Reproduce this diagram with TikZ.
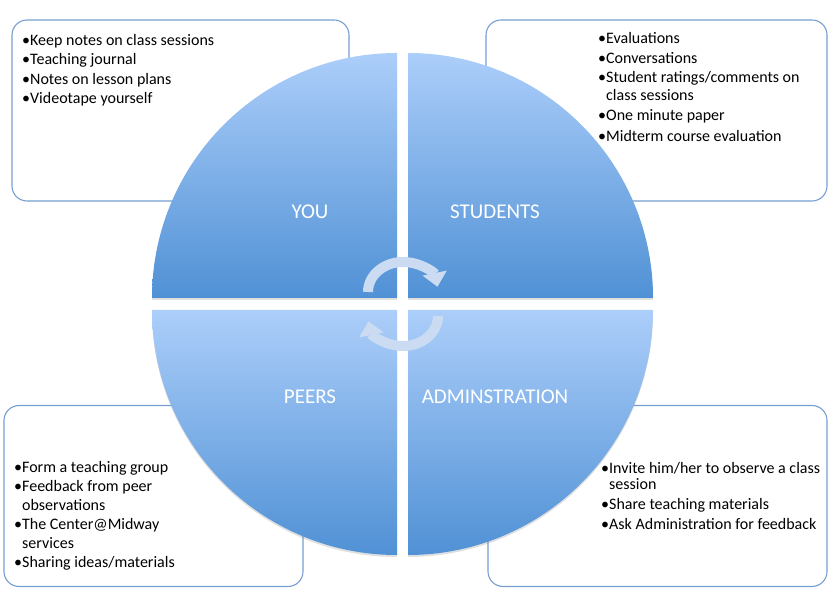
\documentclass[tikz,border=0pt]{standalone}
\usepackage{fontspec}
\setmainfont{Carlito}
\usetikzlibrary{arrows.meta,shadows}
\definecolor{quadtop}{RGB}{172,206,250}
\definecolor{quadbot}{RGB}{80,145,213}
\definecolor{boxline}{RGB}{118,158,208}
\definecolor{arrowpale}{RGB}{202,219,242}
\tikzset{
  notebox/.style={rounded corners=15pt, draw=boxline, line width=1.1pt, fill=white,
                  inner sep=0pt},
  notetext/.style={anchor=base west, inner sep=0pt, align=left, text=black,
                   font=\fontsize{16}{19.5}\selectfont},
  quad/.style={top color=quadtop, bottom color=quadbot,
               drop shadow={shadow xshift=0pt, shadow yshift=-2pt, opacity=0.25}},
  quadlab/.style={font=\fontsize{21}{25}\selectfont, text=white, inner sep=0pt},
  cyclearr/.style={draw=arrowpale, line width=10pt, -{Triangle[length=14pt,width=24pt]}},
}

\begin{document}
\begin{tikzpicture}[x=1pt,y=1pt]
\useasboundingbox (0,0) rectangle (837,612);
% note boxes behind the circle
\node[notebox, minimum width=337pt, minimum height=181pt] (youbox) at (180.5,501.5) {};
\node[notebox, minimum width=341pt, minimum height=181pt] (studbox) at (656.5,501.5) {};
\node[notebox, minimum width=299pt, minimum height=181pt] (peerbox) at (153.5,116) {};
\node[notebox, minimum width=339pt, minimum height=181pt] (admbox) at (657.5,116) {};
% text nodes sit on the baseline of their last line
\node[notetext] (youtext) at (22,508)
  {•Keep notes on class sessions\\•Teaching journal\\•Notes on lesson plans\\•Videotape yourself};
\node[notetext] (studtext) at (598,470)
  {•Evaluations\\•Conversations\\•Student ratings/comments on\\[-1.5pt]\hphantom{•}class sessions\\
   •One minute paper\\[2pt]•Midterm course evaluation};
\node[notetext] (peertext) at (14,44)
  {•Form a teaching group\\•Feedback from peer\\[-1pt]\hphantom{•}observations\\•The Center@Midway\\[-1pt]\hphantom{•}services\\
   •Sharing ideas/materials};
\node[notetext] (admtext) at (601,82)
  {•Invite him/her to observe a class\\[-3.5pt]\hphantom{•}session\\[0.5pt]•Share teaching materials\\[0.5pt]•Ask Administration for feedback};
% four quarters of the circle
\path[quad] (397,314) -- (397,559) arc[start angle=90, end angle=180, radius=245] -- cycle;
\path[quad] (408,314) -- (653,314) arc[start angle=0, end angle=90, radius=245] -- cycle;
\path[quad] (397,302) -- (152,302) arc[start angle=180, end angle=270, radius=245] -- cycle;
\path[quad] (408,302) -- (408,57) arc[start angle=270, end angle=360, radius=245] -- cycle;
\node[quadlab] (you) at (310,400) {YOU};
\node[quadlab] (students) at (495,400) {STUDENTS};
\node[quadlab] (peers) at (310,215) {PEERS};
\node[quadlab] (admin) at (495,215) {ADMINSTRATION};
% cycle arrows in the middle
\draw[cyclearr] (368,320) arc[start angle=180, end angle=10, x radius=35, y radius=30];
\draw[cyclearr] (438,296) arc[start angle=0, end angle=-170, x radius=35, y radius=30];
\end{tikzpicture}
\end{document}
